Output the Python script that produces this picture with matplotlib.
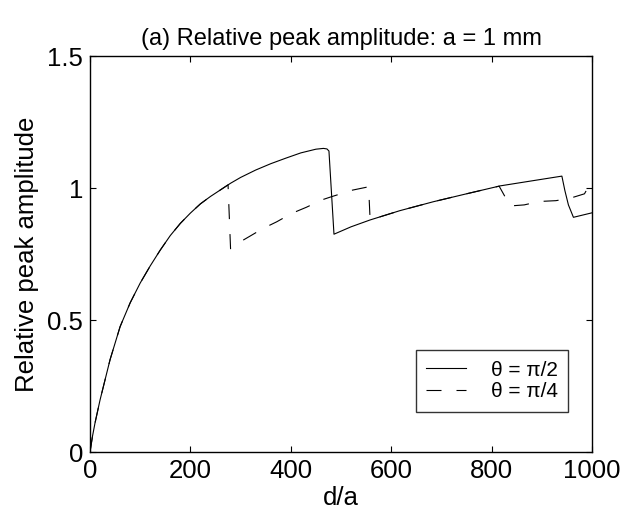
import matplotlib
matplotlib.use("Agg")
import matplotlib.pyplot as plt

plt.rcParams['font.family'] = ['Liberation Sans', 'DejaVu Sans']
plt.rcParams['lines.scale_dashes'] = False

# theta = pi/2 (solid)
d_solid = [0, 5, 10, 20, 40, 60, 80, 100, 120, 140, 160, 180, 200, 220, 240, 260,
           280, 300, 330, 360, 390, 420, 450, 465, 472, 476,
           486, 520, 558, 617, 684, 750, 817, 880, 940, 946, 953, 963, 1000]
v_solid = [0, 0.06, 0.11, 0.197, 0.35, 0.475, 0.565, 0.64, 0.705, 0.765, 0.82, 0.866,
           0.905, 0.94, 0.968, 0.993, 1.018, 1.04, 1.068, 1.092, 1.113, 1.133, 1.147,
           1.150, 1.148, 1.14,
           0.825, 0.853, 0.879, 0.914, 0.948, 0.978, 1.008, 1.027, 1.045, 0.99, 0.936,
           0.889, 0.906]

# theta = pi/4 (dashed)
d_dash = [0, 5, 10, 20, 40, 60, 80, 100, 120, 140, 160, 180, 200, 220, 240, 260,
          275, 280, 292, 319, 345, 372, 402, 431, 462, 481, 523, 551, 555,
          558, 617, 684, 750, 815, 837, 865, 895, 928, 956, 985, 990, 1000]
v_dash = [0, 0.06, 0.11, 0.197, 0.35, 0.475, 0.565, 0.64, 0.705, 0.765, 0.82, 0.866,
          0.905, 0.94, 0.968, 0.993, 1.012, 0.77, 0.788, 0.818, 0.847, 0.872, 0.904,
          0.927, 0.955, 0.967, 0.992, 1.003, 1.004,
          0.879, 0.914, 0.948, 0.978, 1.007, 0.932, 0.936, 0.949, 0.952, 0.961,
          0.978, 0.995, 0.998]

xticks = [0, 200, 400, 600, 800, 1000]
yticks = [0, 0.5, 1, 1.5]
ytick_labels = ['0', '0.5', '1', '1.5']

fig = plt.figure(figsize=(6.26, 5.2), dpi=100)
ax = fig.add_axes([90/626, 1-452/520, 502/626, 396/520])

ax.plot(d_solid, v_solid, color='black', lw=0.8, label='θ = π/2')
ax.plot(d_dash, v_dash, color='black', lw=0.8, linestyle=(0, (10.8, 10.8)), label='θ = π/4')

ax.set_xlim(0, 1000)
ax.set_ylim(0, 1.5)
ax.set_xticks(xticks)
ax.set_yticks(yticks)
ax.set_yticklabels(ytick_labels)
ax.tick_params(direction='in', top=True, right=True, length=4, width=0.8,
               labelsize=18.5, pad=5)
for s in ax.spines.values():
    s.set_linewidth(1.0)

ax.set_xlabel('d/a', fontsize=18.5, labelpad=2)
ax.set_ylabel('Relative peak amplitude', fontsize=18.5, labelpad=6)
ax.set_title('(a) Relative peak amplitude: a = 1 mm', fontsize=17, pad=8)

leg = ax.legend(loc='lower left', bbox_to_anchor=((415.7-90)/502, (452-411.7)/396),
                fontsize=15, frameon=True, fancybox=False, edgecolor='black',
                handlelength=1.9, handletextpad=1.2, borderpad=0.5,
                labelspacing=0.12, borderaxespad=0)
leg.get_frame().set_linewidth(1.0)

fig.savefig('out.png', dpi=100)
